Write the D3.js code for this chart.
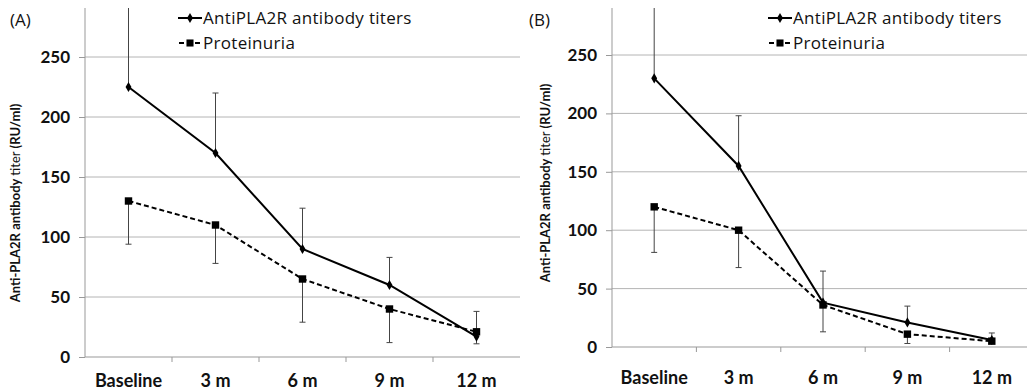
<!DOCTYPE html>
<html>
<head>
<meta charset="utf-8">
<script src="https://cdn.jsdelivr.net/npm/d3@7"></script>
<style>
  body { margin: 0; background: #fff; }
  svg { display: block; }
  text { font-family: Lato, "Open Sans", sans-serif; fill: #111; }
</style>
</head>
<body>
<div id="chart"></div>
<script>
// Categories and tick labels
const categories = ["Baseline", "3 m", "6 m", "9 m", "12 m"];
const yTicks = [0, 50, 100, 150, 200, 250];

// Panel A values (antibody titer errors go up, proteinuria errors go down)
const titersA = [225, 170, 90, 60, 17];
const titersErrA = [110, 50, 34, 23, 21];
const proteinA = [130, 110, 65, 40, 21];
const proteinErrA = [36, 32, 36, 28, 10];

// Panel B values
const titersB = [230, 155, 38, 21, 6];
const titersErrB = [110, 43, 27, 14, 6];
const proteinB = [120, 100, 36, 11, 5];
const proteinErrB = [39, 32, 23, 8, 2];

const width = 1027;
const height = 392;

const svg = d3.select("#chart")
    .append("svg")
    .attr("width", width)
    .attr("height", height);

// Draw one panel
function drawPanel(p) {
    const g = svg.append("g");

    const x = d3.scaleBand()
        .domain(categories)
        .range([p.left, p.right]);

    const y = d3.scaleLinear()
        .domain([0, 250])
        .range([p.zeroY, p.topTickY]);

    // clip for anything running past the plot top
    g.append("clipPath")
        .attr("id", "clip" + p.id)
        .append("rect")
        .attr("x", p.left - 10)
        .attr("y", p.top)
        .attr("width", p.right - p.left + 20)
        .attr("height", p.zeroY - p.top + 10);

    // gridlines
    g.selectAll(".grid")
        .data(yTicks.filter(d => d > 0))
        .enter()
        .append("line")
        .attr("x1", p.left)
        .attr("x2", p.gridRight)
        .attr("y1", d => y(d))
        .attr("y2", d => y(d))
        .attr("stroke", "#b4b4b4")
        .attr("stroke-width", 1);

    // y axis
    const yAxis = g.append("g")
        .attr("transform", `translate(${p.left},0)`)
        .call(d3.axisLeft(y).tickValues(yTicks).tickSize(6).tickPadding(9));
    yAxis.select(".domain").remove();
    yAxis.selectAll(".tick line").attr("stroke", "#999");
    yAxis.selectAll(".tick text")
        .style("font-family", "Lato, sans-serif")
        .style("font-weight", "bold")
        .style("font-size", "17px")
        .attr("fill", "#111");
    g.append("line")
        .attr("x1", p.left).attr("x2", p.left)
        .attr("y1", p.top).attr("y2", p.zeroY)
        .attr("stroke", "#999");

    // x axis
    const xAxis = g.append("g")
        .attr("transform", `translate(0,${p.zeroY})`)
        .call(d3.axisBottom(x).tickSize(0).tickPadding(p.xPad));
    xAxis.select(".domain").attr("stroke", "#999").attr("d", `M${p.left},0H${p.gridRight}`);
    xAxis.selectAll(".tick text")
        .style("font-family", "Lato, sans-serif")
        .style("font-weight", "bold")
        .style("font-size", "18px")
        .attr("fill", "#111");
    // ticks between categories
    g.selectAll(".xtick")
        .data(categories.slice(1))
        .enter()
        .append("line")
        .attr("x1", d => x(d))
        .attr("x2", d => x(d))
        .attr("y1", p.zeroY)
        .attr("y2", p.zeroY + 5)
        .attr("stroke", "#999");

    const cx = d => x(d) + x.bandwidth() / 2;
    const plot = g.append("g").attr("clip-path", `url(#clip${p.id})`);

    // error bars
    function errorBars(vals, errs, dir) {
        const eg = plot.append("g");
        categories.forEach((c, i) => {
            const end = vals[i] + dir * errs[i];
            eg.append("line")
                .attr("x1", cx(c)).attr("x2", cx(c))
                .attr("y1", y(vals[i])).attr("y2", y(end))
                .attr("stroke", "#444").attr("stroke-width", 1);
            eg.append("line")
                .attr("x1", cx(c) - 3).attr("x2", cx(c) + 3)
                .attr("y1", y(end)).attr("y2", y(end))
                .attr("stroke", "#444").attr("stroke-width", 1);
        });
    }
    errorBars(p.titers, p.titersErr, 1);
    errorBars(p.protein, p.proteinErr, -1);

    const line = d3.line()
        .x((d, i) => cx(categories[i]))
        .y(d => y(d));

    // proteinuria
    plot.append("path")
        .datum(p.protein)
        .attr("d", line)
        .attr("fill", "none")
        .attr("stroke", "#000")
        .attr("stroke-width", 2)
        .attr("stroke-dasharray", "5,3");
    plot.selectAll(".sq")
        .data(p.protein)
        .enter()
        .append("path")
        .attr("d", d3.symbol().type(d3.symbolSquare).size(55))
        .attr("transform", (d, i) => `translate(${cx(categories[i])},${y(d)})`)
        .attr("fill", "#000");

    // antibody titers
    plot.append("path")
        .datum(p.titers)
        .attr("d", line)
        .attr("fill", "none")
        .attr("stroke", "#000")
        .attr("stroke-width", 2);
    plot.selectAll(".dm")
        .data(p.titers)
        .enter()
        .append("path")
        .attr("d", d3.symbol().type(d3.symbolDiamond).size(30))
        .attr("transform", (d, i) => `translate(${cx(categories[i])},${y(d)})`)
        .attr("fill", "#000");

    // legend
    const lg = g.append("g").attr("transform", `translate(${p.legendX},0)`);
    lg.append("line")
        .attr("x1", 0).attr("x2", 24).attr("y1", 18).attr("y2", 18)
        .attr("stroke", "#000").attr("stroke-width", 2);
    lg.append("path")
        .attr("d", d3.symbol().type(d3.symbolDiamond).size(30))
        .attr("transform", "translate(12,18)");
    lg.append("text")
        .attr("x", 25).attr("y", 18).attr("dy", "0.35em")
        .style("font-family", "'Open Sans', sans-serif")
        .style("font-size", "17px")
        .style("letter-spacing", "0.3px")
        .text("AntiPLA2R antibody titers");
    lg.append("line")
        .attr("x1", 1).attr("x2", 24).attr("y1", 43).attr("y2", 43)
        .attr("stroke", "#000").attr("stroke-width", 2)
        .attr("stroke-dasharray", "5,3");
    lg.append("path")
        .attr("d", d3.symbol().type(d3.symbolSquare).size(50))
        .attr("transform", "translate(12,43)");
    lg.append("text")
        .attr("x", 25).attr("y", 43).attr("dy", "0.35em")
        .style("font-family", "'Open Sans', sans-serif")
        .style("font-size", "17px")
        .style("letter-spacing", "0.3px")
        .text("Proteinuria");

    // panel letter
    g.append("text")
        .attr("x", p.letterX).attr("y", 20).attr("dy", "0.35em")
        .style("font-family", "'Open Sans', sans-serif")
        .style("font-size", "17px")
        .text(p.letter);

    // y axis title
    const t = g.append("text")
        .attr("transform", `translate(${p.titleX},${p.titleY}) rotate(-90)`)
        .attr("text-anchor", "middle")
        .style("font-size", "13px");
    t.append("tspan").style("font-weight", "bold").text("Anti-PLA2R antibody ");
    t.append("tspan").style("font-weight", "normal").text("titer ");
    t.append("tspan").style("font-weight", "bold").text("(RU/ml)");
}

drawPanel({
    id: "A", letter: "(A)",
    left: 85, right: 520, gridRight: 520,
    top: 8, zeroY: 357, topTickY: 57, xPad: 17,
    titers: titersA, titersErr: titersErrA,
    protein: proteinA, proteinErr: proteinErrA,
    legendX: 178, letterX: 10, titleX: 20, titleY: 203
});

drawPanel({
    id: "B", letter: "(B)",
    left: 612, right: 1034, gridRight: 1027,
    top: 8, zeroY: 347, topTickY: 55, xPad: 24,
    titers: titersB, titersErr: titersErrB,
    protein: proteinB, proteinErr: proteinErrB,
    legendX: 768, letterX: 529, titleX: 550, titleY: 183
});
</script>
</body>
</html>
